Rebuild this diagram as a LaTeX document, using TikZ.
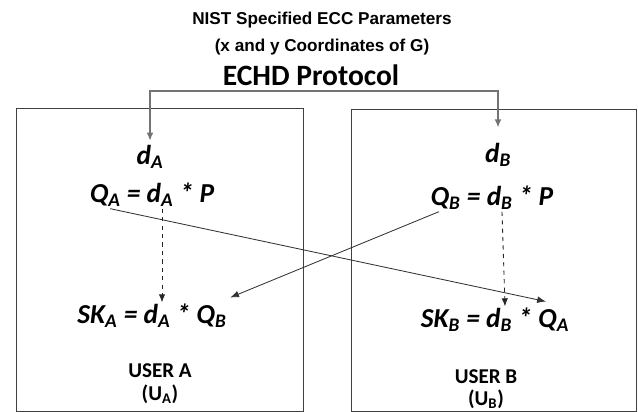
\documentclass[tikz,border=0pt]{standalone}
\usepackage{fontspec}
\setmainfont{Carlito}
\newfontfamily\headfont{Liberation Sans}
\usetikzlibrary{arrows.meta,positioning}

\begin{document}
\begin{tikzpicture}[x=0.025cm, y=-0.025cm,
    head/.style={font=\headfont\fontsize{12.2}{14}\selectfont\bfseries, inner sep=1pt},
    proto/.style={font=\fontsize{21}{23}\selectfont\bfseries, inner sep=1pt},
    eq/.style={font=\fontsize{19.5}{21}\selectfont\bfseries\itshape, inner sep=1pt},
    user/.style={font=\fontsize{15}{17}\selectfont\bfseries, inner sep=1pt},
    party/.style={draw=black!75, line width=0.7pt},
    feed/.style={{Latex[length=2mm,width=1.7mm]}-{Latex[length=2mm,width=1.7mm]}, black!55, line width=1pt},
    swap/.style={-{Latex[length=2.2mm,width=1.7mm]}, black!80, line width=0.6pt},
    keep/.style={-{Latex[length=2mm,width=1.6mm]}, black!85, dashed, line width=0.6pt}
  ]
  \useasboundingbox (0,0) rectangle (638,412);

  % headings
  \node[head]  (nist) at (322,20) {NIST Specified ECC Parameters};
  \node[head]  (xyG)  at (322,47) {(x and y Coordinates of G)};
  \node[proto] (echd) at (311,75) {ECHD Protocol};

  % the two parties
  \draw[party] (16,108) rectangle (303,411);
  \draw[party] (351,109) rectangle (636,411);

  % user A
  \node[eq]   (dA)    at (150,157) {d\textsubscript{A}};
  \node[eq]   (qA)    at (152,195) {Q\textsubscript{A} = d\textsubscript{A} * P};
  \node[eq]   (skA)   at (152,316) {SK\textsubscript{A} = d\textsubscript{A} * Q\textsubscript{B}};
  \node[user] (userA) at (160,371) {USER A};
  \node[user] (uA)    at (160,394) {(U\textsubscript{\upshape A})};

  % user B
  \node[eq]   (dB)    at (498,155) {d\textsubscript{B}};
  \node[eq]   (qB)    at (492,198) {Q\textsubscript{B} = d\textsubscript{B} * P};
  \node[eq]   (skB)   at (495,320) {SK\textsubscript{B} = d\textsubscript{B} * Q\textsubscript{A}};
  \node[user] (userB) at (486,377) {USER B};
  \node[user] (uB)    at (486,399) {(U\textsubscript{\upshape B})};

  % parameters handed to both sides
  \coordinate (bus) at (327,91);
  \draw[feed, shorten <=2pt, shorten >=10pt] (dA.north) |- (bus) -| (dB.north);

  % public keys swapped
  \draw[swap] ([xshift=0.55cm]qA.south west) -- ([xshift=-0.62cm,yshift=0.12cm]skB.north east);
  \draw[swap] ([xshift=0.25cm]qB.south west) -- ([xshift=0.05cm,yshift=0.12cm]skA.north east);

  % own secret kept
  \draw[keep] ([xshift=0.25cm]qA.south) -- ([xshift=0.25cm]skA.north);
  \draw[keep] ([xshift=0.25cm]qB.south) -- ([xshift=0.25cm]skB.north);
\end{tikzpicture}
\end{document}
